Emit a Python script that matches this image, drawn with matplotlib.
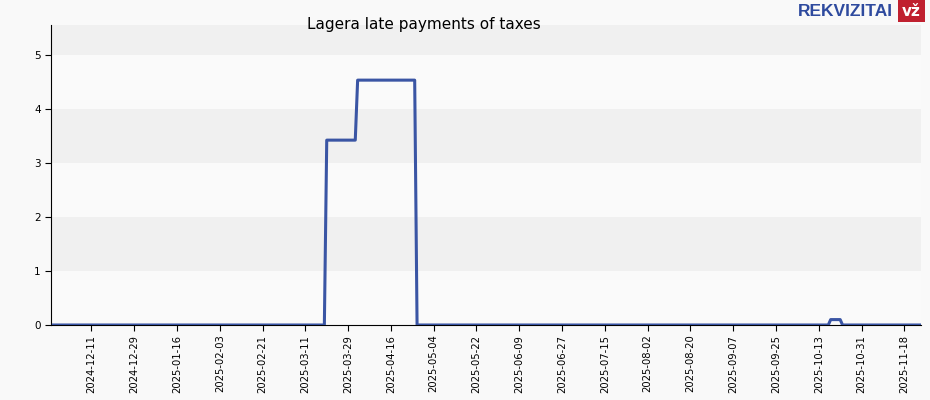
import numpy as np
import pandas as pd
import matplotlib
matplotlib.use("Agg")
import matplotlib.pyplot as plt
import matplotlib.dates as mdates
from matplotlib import patches

# data: dates where the value changes and the value on that date
dates = ["2024-11-25", "2025-03-19", "2025-03-20", "2025-04-01", "2025-04-02",
         "2025-04-26", "2025-04-27", "2025-10-17", "2025-10-18", "2025-10-22",
         "2025-10-23", "2025-11-25"]
values = [0, 0, 3.42, 3.42, 4.53, 4.53, 0, 0, 0.1, 0.1, 0, 0]
tick_dates = ["2024-12-11", "2024-12-29", "2025-01-16", "2025-02-03", "2025-02-21",
              "2025-03-11", "2025-03-29", "2025-04-16", "2025-05-04", "2025-05-22",
              "2025-06-09", "2025-06-27", "2025-07-15", "2025-08-02", "2025-08-20",
              "2025-09-07", "2025-09-25", "2025-10-13", "2025-10-31", "2025-11-18"]
title = "Lagera late payments of taxes"

x = pd.to_datetime(dates)
ticks = pd.to_datetime(tick_dates)

fig = plt.figure(figsize=(9.3, 4.0), dpi=100)
fig.patch.set_facecolor("#f9f9f9")
ax = fig.add_axes([51/930, 1 - 325/400, 870/930, 300/400])
ax.set_facecolor("#fafafa")

ymax = 5.55
for lo in [1, 3, 5]:
    ax.axhspan(lo, min(lo + 1, ymax), color="#f0f0f0", lw=0, zorder=0)

ax.plot(x, values, color="#3a55a4", lw=2.2, zorder=3)

ax.set_xlim(pd.Timestamp("2024-11-24"), pd.Timestamp("2025-11-25"))
ax.set_ylim(0, ymax)
ax.set_yticks([0, 1, 2, 3, 4, 5])
ax.set_xticks(ticks)
ax.xaxis.set_major_formatter(mdates.DateFormatter("%Y-%m-%d"))
ax.tick_params(axis="x", rotation=90, labelsize=7.2, length=4, pad=3)
ax.tick_params(axis="y", labelsize=7.5, length=4)
for s in ["top", "right"]:
    ax.spines[s].set_visible(False)
ax.spines["left"].set_color("#000000")
ax.spines["bottom"].set_color("#000000")

fig.text(424/930, 1 - 24/400, title, ha="center", va="center", fontsize=11)

# logo
fig.text(893/930, 1 - 11/400, "REKVIZITAI", ha="right", va="center",
         fontsize=12.5, fontweight="bold", color="#2e4a9e",
         family=["Liberation Sans", "DejaVu Sans"])
fig.patches.append(patches.Rectangle((898/930, 1 - 22/400), 27/930, 22/400,
                                     transform=fig.transFigure, fc="#c0202f", ec="none"))
fig.text(911.5/930, 1 - 12/400, "vž", ha="center", va="center", fontsize=11,
         fontweight="bold", color="white")

fig.savefig("out.png", dpi=100, facecolor=fig.get_facecolor())
